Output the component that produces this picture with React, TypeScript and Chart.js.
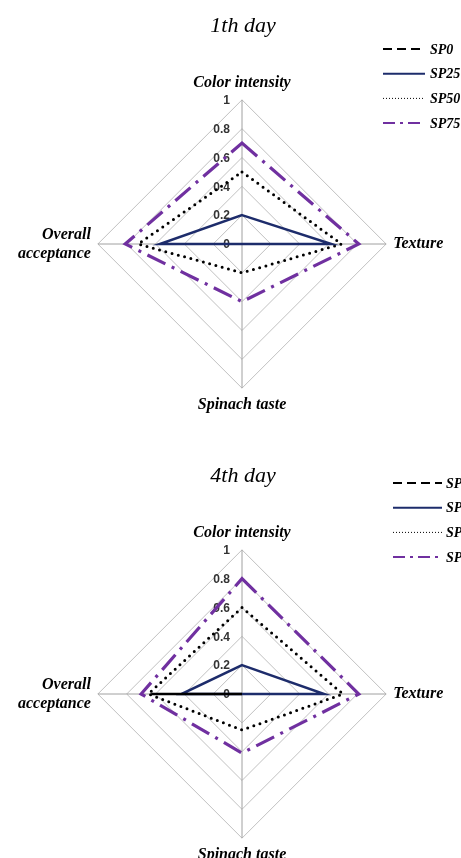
import React, { useEffect, useRef } from "react";
import { Chart, registerables } from "chart.js";

Chart.register(...registerables);

// ---- data ----
const axisLabels: (string | string[])[] = ["Color intensity", "Texture", "Spinach taste", ["Overall", "acceptance"]];
const seriesNames = ["SP0", "SP25", "SP50", "SP75"];
const tickValues = [0, 0.2, 0.4, 0.6, 0.8, 1];
const tickLabels = ["0", "0.2", "0.4", "0.6", "0.8", "1"];

const day1Title = "1th day";
const day1SP0 = [0, 0, 0, 0];
const day1SP25 = [0.2, 0.62, 0, 0.57];
const day1SP50 = [0.5, 0.69, 0.2, 0.72];
const day1SP75 = [0.7, 0.81, 0.4, 0.81];

const day4Title = "4th day";
const day4SP0 = [0, 0, 0, 0.63];
const day4SP25 = [0.2, 0.57, 0, 0.42];
const day4SP50 = [0.6, 0.7, 0.25, 0.65];
const day4SP75 = [0.8, 0.81, 0.41, 0.7];

// ---- styles ----
const seriesStyles = [
  { color: "#000000", width: 2.5, dash: [11, 5], cap: "butt", legendDash: [9, 5], legendWidth: 2 },
  { color: "#1d2c6b", width: 2.5, dash: [], cap: "butt", legendDash: [], legendWidth: 2 },
  { color: "#000000", width: 3, dash: [0, 6.5], cap: "round", legendDash: [1, 2], legendWidth: 1 },
  { color: "#7030a0", width: 3.2, dash: [20, 7, 3, 7], cap: "butt", legendDash: [12, 5, 3, 5], legendWidth: 2 },
];

const decorPlugin = {
  id: "decor",
  beforeDatasetsDraw(chart: any) {
    const ctx = chart.ctx;
    const scale = chart.scales.r;
    ctx.save();
    ctx.font = 'bold 12px "Liberation Sans"';
    ctx.fillStyle = "#333333";
    ctx.textAlign = "right";
    ctx.textBaseline = "middle";
    tickValues.forEach((v, i) => {
      const d = scale.getDistanceFromCenterForValue(v);
      ctx.fillText(tickLabels[i], scale.xCenter - 12, scale.yCenter - d + 1);
    });
    ctx.restore();
  },
  afterDraw(chart: any, _args: any, opts: any) {
    const ctx = chart.ctx;
    ctx.save();
    ctx.font = 'italic 22px "Liberation Serif"';
    ctx.fillStyle = "#000";
    ctx.textAlign = "center";
    ctx.textBaseline = "middle";
    ctx.fillText(opts.title, opts.titleX, opts.titleY);
    chart.data.datasets.forEach((ds: any, i: number) => {
      const y = opts.legendY + i * opts.legendStep;
      ctx.beginPath();
      ctx.setLineDash(ds.legendDash);
      ctx.lineWidth = ds.legendWidth;
      ctx.strokeStyle = ds.borderColor;
      ctx.lineCap = "butt";
      ctx.moveTo(opts.legendX, y);
      ctx.lineTo(opts.legendX + opts.legendLen, y);
      ctx.stroke();
      ctx.setLineDash([]);
      ctx.font = 'bold italic 14px "Liberation Serif"';
      ctx.fillStyle = "#000";
      ctx.textAlign = "left";
      ctx.fillText(ds.label, opts.legendX + opts.legendLen + opts.legendGap, y + 1);
    });
    ctx.restore();
  },
};

function RadarChart(props: { title: string; series: number[][]; decor: any }) {
  const ref = useRef<HTMLCanvasElement>(null);
  useEffect(() => {
    const chart = new Chart(ref.current as HTMLCanvasElement, {
      type: "radar",
      data: {
        labels: axisLabels,
        datasets: props.series.map((vals, i) => ({
          label: seriesNames[i],
          data: vals,
          borderColor: seriesStyles[i].color,
          backgroundColor: "transparent",
          borderWidth: seriesStyles[i].width,
          borderDash: seriesStyles[i].dash,
          borderCapStyle: seriesStyles[i].cap,
          borderJoinStyle: "miter",
          pointRadius: 0,
          fill: false,
          legendDash: seriesStyles[i].legendDash,
          legendWidth: seriesStyles[i].legendWidth,
        })) as any,
      },
      options: {
        animation: false,
        responsive: false,
        maintainAspectRatio: false,
        layout: { padding: { left: 7, right: 6, top: 0, bottom: 0 } },
        plugins: {
          legend: { display: false },
          tooltip: { enabled: false },
          decor: { title: props.title, ...props.decor },
        } as any,
        scales: {
          r: {
            min: 0,
            max: 1,
            ticks: { display: false, stepSize: 0.2 },
            grid: { color: "#c0c0c0", lineWidth: 1 },
            angleLines: { color: "#a0a0a0", lineWidth: 1 },
            pointLabels: {
              padding: 7,
              color: "#000",
              font: { family: '"Liberation Serif"', size: 16, style: "italic", weight: "bold", lineHeight: 1.2 },
            },
          },
        },
      },
      plugins: [decorPlugin],
    });
    return () => chart.destroy();
  }, []);
  return <canvas ref={ref} width={461} height={488} style={{ width: 461, height: 488, display: "block" }} />;
}

export default function App() {
  return (
    <div style={{ position: "absolute", left: 0, top: 0, width: 461, height: 858, overflow: "hidden", background: "#fff" }}>
      <div style={{ position: "absolute", left: 0, top: 0 }}>
        <RadarChart
          title={day1Title}
          series={[day1SP0, day1SP25, day1SP50, day1SP75]}
          decor={{ titleX: 243, titleY: 26, legendX: 383, legendY: 49, legendStep: 24.7, legendLen: 42, legendGap: 5 }}
        />
      </div>
      <div style={{ position: "absolute", left: 0, top: 450 }}>
        <RadarChart
          title={day4Title}
          series={[day4SP0, day4SP25, day4SP50, day4SP75]}
          decor={{ titleX: 243, titleY: 26, legendX: 393, legendY: 33, legendStep: 24.7, legendLen: 49, legendGap: 4 }}
        />
      </div>
    </div>
  );
}
